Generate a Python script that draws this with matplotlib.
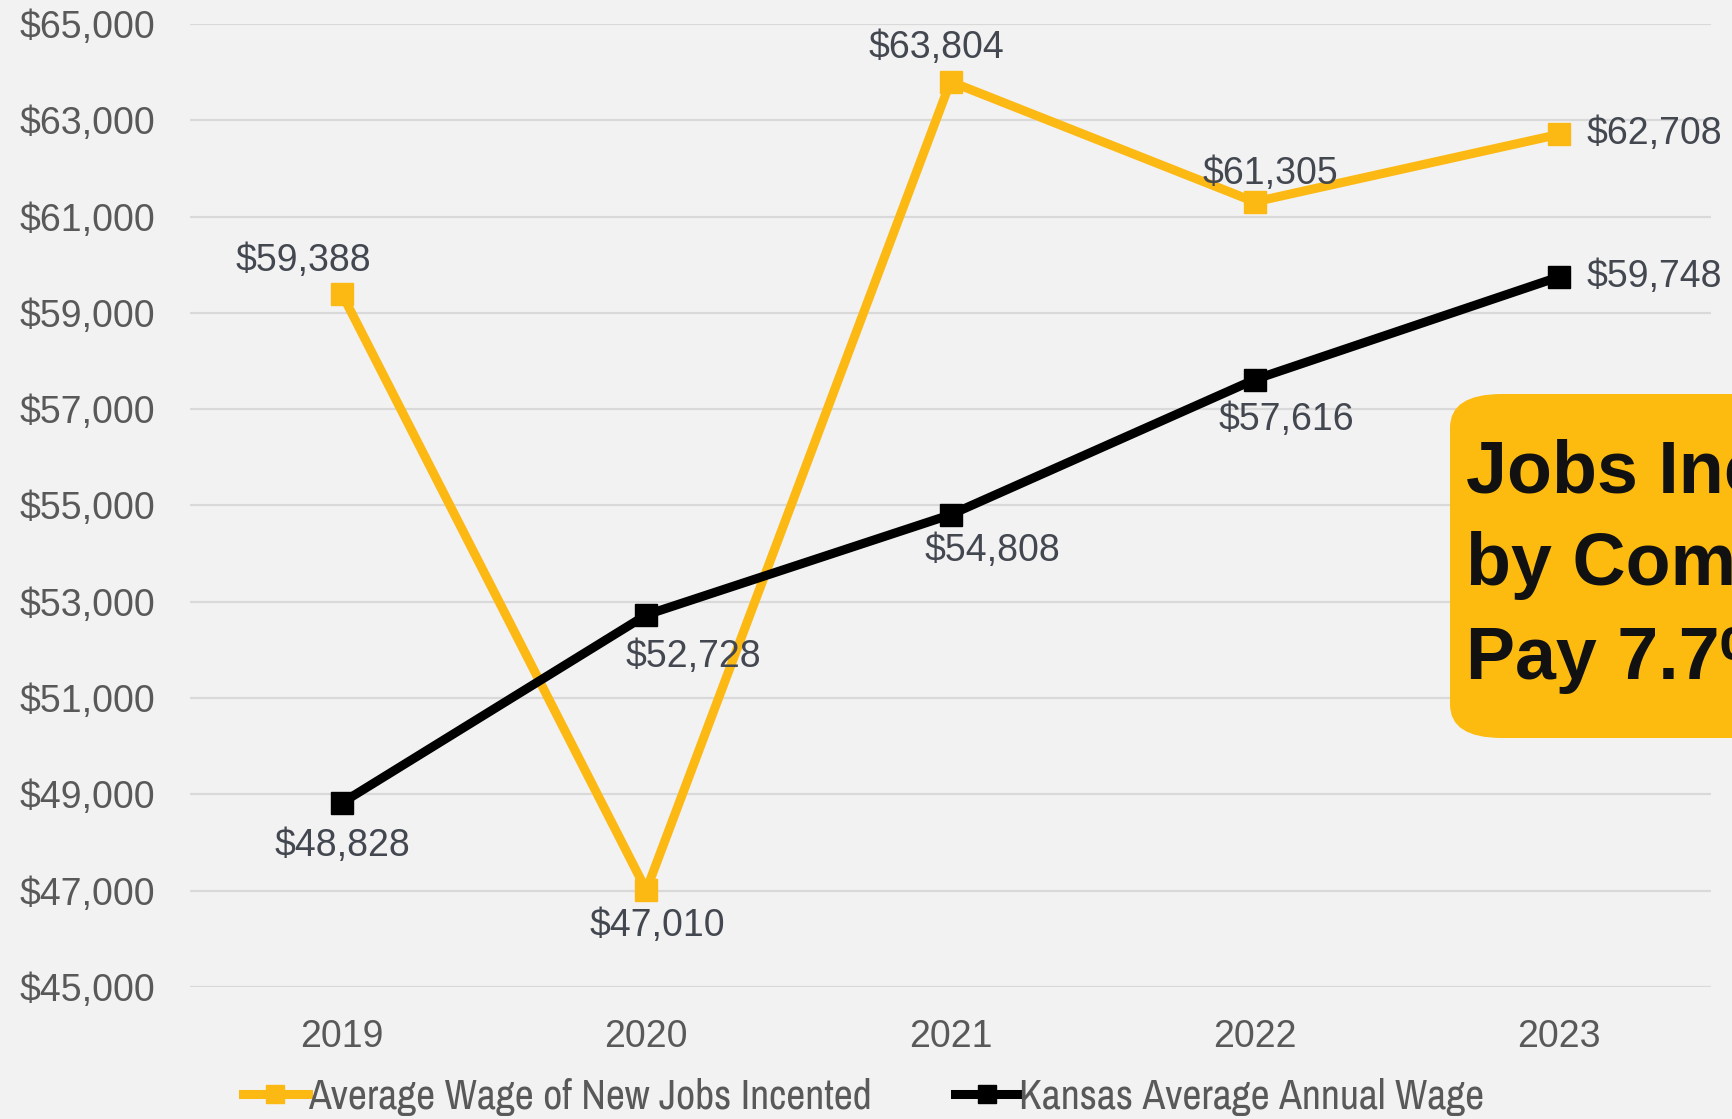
import matplotlib
matplotlib.use("Agg")
import matplotlib.pyplot as plt
from matplotlib.lines import Line2D
from matplotlib.patches import FancyBboxPatch

years = ["2019", "2020", "2021", "2022", "2023"]
new_jobs_wage = [59388, 47010, 63804, 61305, 62708]
kansas_wage = [48828, 52728, 54808, 57616, 59748]
yticks = list(range(45000, 65001, 2000))
series_names = ["Average Wage of New Jobs Incented", "Kansas Average Annual Wage"]
callout_text = "Jobs Incented\nby Companies\nPay 7.7% More"

GOLD = "#FDB913"
BLACK = "#000000"
BG = "#F2F2F2"
TXT = "#595959"
LBL = "#434750"
NUM_FONT = ["Liberation Sans", "DejaVu Sans"]
NARROW = ["Archivo Narrow", "Barlow Semi Condensed", "DejaVu Sans"]

fig = plt.figure(figsize=(17.32, 11.19), dpi=100, facecolor=BG)
ax = fig.add_axes([190/1732, 1-987/1119, (1711-190)/1732, (987-24)/1119])
ax.set_facecolor(BG)

x = list(range(len(years)))
ax.plot(x, new_jobs_wage, color=GOLD, lw=6.5, marker="s", ms=16, zorder=3)
ax.plot(x, kansas_wage, color=BLACK, lw=6.5, marker="s", ms=16, zorder=4)

ax.set_xlim(-0.5, len(years)-0.5)
ax.set_ylim(45000, 65000)
ax.set_yticks(yticks)
ax.set_yticklabels([f"${v:,}" for v in yticks], fontfamily=NUM_FONT, fontsize=27, color=TXT)
ax.set_xticks(x)
ax.set_xticklabels(years, fontfamily=NUM_FONT, fontsize=27, color=TXT)
ax.tick_params(axis="y", length=0, pad=25)
ax.tick_params(axis="x", length=0, pad=23)
ax.grid(axis="y", color="#D9D9D9", lw=1.6, zorder=0)
for s in ax.spines.values():
    s.set_visible(False)

gold_off = [(-28, 24, "center"), (8, -26, "center"), (-10, 24, "center"), (11, 20, "center"), (20, 0, "left")]
black_off = [(0, -31, "center"), (34, -30, "center"), (30, -26, "center"), (23, -29, "center"), (20, 0, "left")]
for i, v in enumerate(new_jobs_wage):
    dx, dy, ha = gold_off[i]
    ax.annotate(f"${v:,}", (i, v), xytext=(dx, dy), textcoords="offset points",
                ha=ha, va="center", fontsize=27, color=LBL, fontfamily=NUM_FONT, zorder=5,
                annotation_clip=False)
for i, v in enumerate(kansas_wage):
    dx, dy, ha = black_off[i]
    ax.annotate(f"${v:,}", (i, v), xytext=(dx, dy), textcoords="offset points",
                ha=ha, va="center", fontsize=27, color=LBL, fontfamily=NUM_FONT, zorder=5,
                annotation_clip=False)

# callout box (extends past the right edge, as in the source)
box = FancyBboxPatch((1450/1732, 1-738/1119), 400/1732, (738-394)/1119,
                     boxstyle="round,pad=0,rounding_size=0.03", transform=fig.transFigure,
                     facecolor="#FDBB0F", edgecolor="none", zorder=6)
fig.patches.append(box)
fig.text(1466/1732, 1-566/1119, callout_text, fontsize=53, fontweight="bold",
         fontfamily=["Liberation Sans", "DejaVu Sans"], color="#111111", ha="left", va="center",
         linespacing=1.45, zorder=7)

handles = [Line2D([], [], color=GOLD, lw=6.5, marker="s", ms=13),
           Line2D([], [], color=BLACK, lw=6.5, marker="s", ms=13)]
leg = fig.legend(handles, series_names, loc="center left", bbox_to_anchor=(243/1732, 0.02),
                 ncol=2, frameon=False, handlelength=1.55, handletextpad=0.0, columnspacing=2.0,
                 prop={"family": NARROW, "size": 30}, borderpad=0, borderaxespad=0)
for t in leg.get_texts():
    t.set_color(TXT)

fig.savefig("out.png", dpi=100, facecolor=BG)
